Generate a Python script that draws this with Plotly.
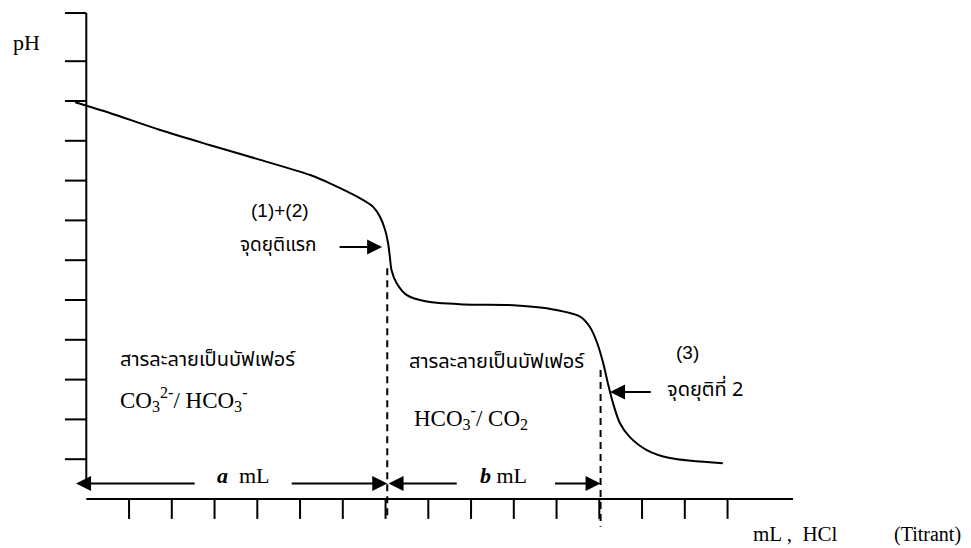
import plotly.graph_objects as go

# ---- data (x in titrant tick units, y in pH tick units) ----
curve_x = [-0.26, 0.55, 1.73, 2.90, 4.07, 5.24, 5.70, 6.48, 6.71, 6.87, 6.99, 7.06,
           7.10, 7.14, 7.26, 7.49, 7.96, 8.82, 9.99, 10.77, 11.55, 11.78, 11.95,
           12.09, 12.20, 12.32, 12.48, 12.71, 13.11, 13.65, 14.89]
curve_y = [9.97, 9.70, 9.27, 8.89, 8.52, 8.14, 7.93, 7.51, 7.34, 7.09, 6.76, 6.42,
           6.09, 5.75, 5.42, 5.13, 4.96, 4.89, 4.87, 4.79, 4.58, 4.32, 3.92,
           3.42, 2.91, 2.41, 1.91, 1.56, 1.23, 1.03, 0.90]
x_ticks = list(range(1, 16))
y_ticks = list(range(1, 12))
y_top = 12.21
x_end = 16.53
equiv1 = 7.04
equiv2 = 12.03

BLACK = "#000000"
SERIF = "Liberation Serif, Times New Roman, serif"
SANS = "Liberation Sans, Arial, sans-serif"
THAI = "Noto Sans Thai, Noto Serif Thai, Garuda, Loma, Norasi, sans-serif"

# page offset of the plotly div (body margin)
OFF = 8
PX_X0, PX_Y0, UX, UY = 86.3 - OFF, 499 - OFF, 42.75, 39.8

fig = go.Figure()

fig.add_trace(go.Scatter(x=curve_x, y=curve_y, mode="lines",
                         line=dict(color=BLACK, width=2, shape="spline", smoothing=0.8),
                         hoverinfo="skip"))

yx, yy = [0, 0, None], [0.5, y_top, None]
for t in y_ticks + [y_top]:
    yx += [-0.5, 0, None]
    yy += [t, t, None]
fig.add_trace(go.Scatter(x=yx, y=yy, mode="lines", line=dict(color=BLACK, width=2),
                         hoverinfo="skip"))

xx, xy = [0, x_end, None], [0, 0, None]
for t in x_ticks:
    xx += [t, t, None]
    xy += [0, -0.5, None]
fig.add_trace(go.Scatter(x=xx, y=xy, mode="lines", line=dict(color=BLACK, width=2),
                         hoverinfo="skip"))

fig.add_trace(go.Scatter(x=[equiv1, equiv1], y=[5.8, -0.5], mode="lines",
                         line=dict(color=BLACK, width=2, dash="7px,5px"), hoverinfo="skip"))
fig.add_trace(go.Scatter(x=[equiv2, equiv2], y=[3.24, -0.7], mode="lines",
                         line=dict(color=BLACK, width=2, dash="7px,5px"), hoverinfo="skip"))

def arrow(tip_x, tip_y, tail_x):
    fig.add_annotation(x=tip_x, y=tip_y, ax=tail_x, ay=tip_y, xref="x", yref="y",
                       axref="x", ayref="y", text="", showarrow=True,
                       arrowhead=2, arrowsize=1.5, arrowwidth=2, arrowcolor=BLACK,
                       standoff=0, startstandoff=0)

arrow(-0.24, 0.39, 2.57)
arrow(equiv1, 0.39, 4.77)
arrow(equiv1 + 0.03, 0.39, 8.70)
arrow(equiv2, 0.39, 10.93)
arrow(6.92, 6.33, 5.89)
arrow(12.25, 2.69, 13.24)

def text(x, y, s, font, size, xanchor="center"):
    fig.add_annotation(x=x, y=y, xref="x", yref="y", text=s, showarrow=False,
                       xanchor=xanchor, yanchor="middle",
                       font=dict(family=font, size=size, color=BLACK))

text(-1.39, 11.48, "pH", SERIF, 22)
text(4.53, 7.24, "(1)+(2)", SANS, 19)
text(4.48, 6.38, "จุดยุติแรก", THAI, 19)
text(0.74, 3.49, "สารละลายเป็นบัฟเฟอร์", THAI, 20, "left")
text(0.74, 2.49, "CO<sub>3</sub><sup>2-</sup>/ HCO<sub>3</sub><sup>-</sup>", SERIF, 23, "left")
text(7.50, 3.44, "สารละลายเป็นบัฟเฟอร์", THAI, 20, "left")
text(7.62, 2.06, "HCO<sub>3</sub><sup>-</sup>/ CO<sub>2</sub>", SERIF, 23, "left")
text(14.07, 3.69, "(3)", SANS, 19)
text(13.54, 2.74, "จุดยุติที่ 2", THAI, 20, "left")
text(3.67, 0.58, "<b><i>a</i></b>  mL", SERIF, 22)
text(9.75, 0.58, "<b><i>b</i></b> mL", SERIF, 22)
text(15.55, -0.88, "mL ,  HCl", SERIF, 21, "left")
text(18.85, -0.88, "(Titrant)", SERIF, 20, "left")

fig.update_layout(
    width=971, height=548, margin=dict(l=0, r=0, t=0, b=0),
    paper_bgcolor="white", plot_bgcolor="white", showlegend=False,
    xaxis=dict(range=[-PX_X0 / UX, (971 - PX_X0) / UX], visible=False, fixedrange=True),
    yaxis=dict(range=[(PX_Y0 - 548) / UY, PX_Y0 / UY], visible=False, fixedrange=True),
)

fig.write_html("out.html")
